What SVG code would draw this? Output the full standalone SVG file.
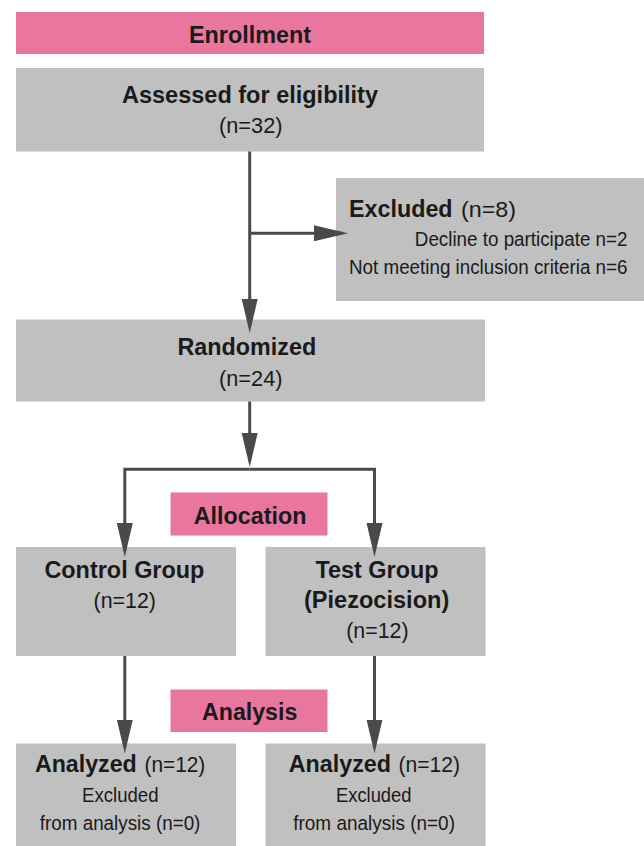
<svg xmlns="http://www.w3.org/2000/svg" width="644" height="846" viewBox="0 0 644 846">
<style>
.pink{fill:#E8769E}
.box{fill:#C0C0C0}
text{font-family:"Liberation Sans",Arial,Helvetica,sans-serif;fill:#1a1a1a}
.b{font-weight:bold;font-size:23.5px}
.r{font-size:21.5px}
.s{font-size:20.5px}
.x{font-size:19.5px}
.c{fill:none;stroke:#4a4a4a;stroke-width:3;marker-end:url(#ah)}
</style>
<defs>
<marker id="ah" markerUnits="userSpaceOnUse" markerWidth="36" markerHeight="18" refX="28" refY="8" orient="auto">
<path d="M0,0 L34,8 L0,16 z" fill="#4a4a4a"/>
</marker>
</defs>
<rect width="644" height="846" fill="#ffffff"/>
<g id="enrollment">
<rect class="pink" x="16" y="12" width="468" height="42"/>
<text class="b" x="189" y="42.7" textLength="122" lengthAdjust="spacingAndGlyphs">Enrollment</text>
</g>
<g id="assessed">
<rect class="box" x="16" y="68" width="468" height="83.5"/>
<text class="b" x="122" y="103" textLength="256" lengthAdjust="spacingAndGlyphs">Assessed for eligibility</text>
<text class="r" x="219" y="132.7" textLength="63.5" lengthAdjust="spacingAndGlyphs">(n=32)</text>
</g>
<g id="excluded">
<rect class="box" x="336" y="178" width="308" height="123"/>
<text class="b" x="349" y="216.7" textLength="103.6" lengthAdjust="spacingAndGlyphs">Excluded</text>
<text class="r" x="461" y="216.7" textLength="55" lengthAdjust="spacingAndGlyphs">(n=8)</text>
<text class="x" x="414.8" y="246" textLength="212.7" lengthAdjust="spacingAndGlyphs">Decline to participate n=2</text>
<text class="x" x="349" y="274" textLength="278.5" lengthAdjust="spacingAndGlyphs">Not meeting inclusion criteria n=6</text>
</g>
<g id="randomized">
<rect class="box" x="16" y="319.5" width="469" height="82"/>
<text class="b" x="177.4" y="355" textLength="138.8" lengthAdjust="spacingAndGlyphs">Randomized</text>
<text class="r" x="219" y="386" textLength="63.5" lengthAdjust="spacingAndGlyphs">(n=24)</text>
</g>
<g id="allocation">
<rect class="pink" x="170.5" y="492.5" width="157" height="43"/>
<text class="b" x="193.8" y="524" textLength="112.6" lengthAdjust="spacingAndGlyphs">Allocation</text>
</g>
<g id="control">
<rect class="box" x="16" y="547" width="220" height="109"/>
<text class="b" x="44.4" y="577.7" textLength="160" lengthAdjust="spacingAndGlyphs">Control Group</text>
<text class="r" x="93.6" y="608.3" textLength="62.4" lengthAdjust="spacingAndGlyphs">(n=12)</text>
</g>
<g id="test">
<rect class="box" x="265.5" y="547" width="220" height="109"/>
<text class="b" x="315.4" y="577.7" textLength="123.2" lengthAdjust="spacingAndGlyphs">Test Group</text>
<text class="b" x="303.9" y="608.3" textLength="145.4" lengthAdjust="spacingAndGlyphs">(Piezocision)</text>
<text class="r" x="346.2" y="638.3" textLength="62.4" lengthAdjust="spacingAndGlyphs">(n=12)</text>
</g>
<g id="analysis">
<rect class="pink" x="170.5" y="689.5" width="157" height="42.5"/>
<text class="b" x="202" y="720" textLength="95.3" lengthAdjust="spacingAndGlyphs">Analysis</text>
</g>
<g id="analyzed-control">
<rect class="box" x="16" y="743.5" width="220" height="110"/>
<text class="b" x="34.9" y="772.3" textLength="101.9" lengthAdjust="spacingAndGlyphs">Analyzed</text>
<text class="r" x="144.6" y="772.3" textLength="60.7" lengthAdjust="spacingAndGlyphs">(n=12)</text>
<text class="s" x="82.1" y="801.7" textLength="76.4" lengthAdjust="spacingAndGlyphs">Excluded</text>
<text class="s" x="39.8" y="830" textLength="160.6" lengthAdjust="spacingAndGlyphs">from analysis (n=0)</text>
</g>
<g id="analyzed-test">
<rect class="box" x="265.5" y="743.5" width="220" height="110"/>
<text class="b" x="288.7" y="772.3" textLength="102.3" lengthAdjust="spacingAndGlyphs">Analyzed</text>
<text class="r" x="398.4" y="772.3" textLength="61.6" lengthAdjust="spacingAndGlyphs">(n=12)</text>
<text class="s" x="336" y="801.7" textLength="75.5" lengthAdjust="spacingAndGlyphs">Excluded</text>
<text class="s" x="293.2" y="830" textLength="161.8" lengthAdjust="spacingAndGlyphs">from analysis (n=0)</text>
</g>
<g id="connectors">
<path class="c" d="M249.7,151.5 V327"/>
<path class="c" d="M249.7,233.3 H342"/>
<path class="c" d="M249.7,401.5 V461"/>
<path class="c" d="M249.7,469.3 H124.8 V551"/>
<path class="c" d="M249.7,469.3 H374.5 V551"/>
<path class="c" d="M124.8,656 V747.5"/>
<path class="c" d="M374.5,656 V747.5"/>
</g>
</svg>
